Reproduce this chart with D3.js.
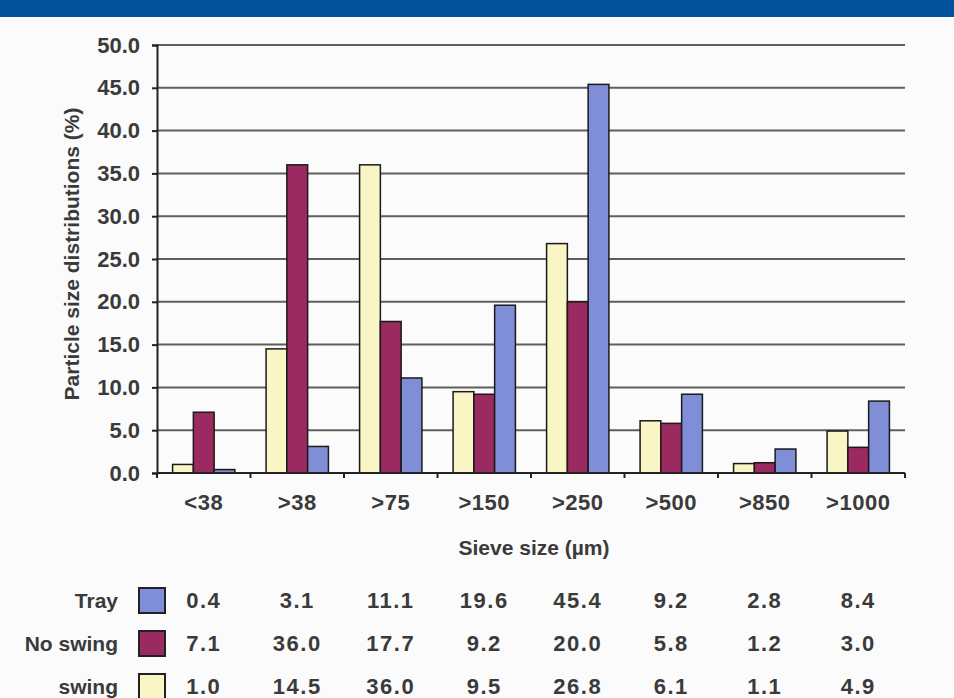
<!DOCTYPE html>
<html>
<head>
<meta charset="utf-8">
<script src="https://cdn.jsdelivr.net/npm/d3@7"></script>
<style>
  html, body { margin: 0; padding: 0; background: #fbfbfb; }
  svg { display: block; }
  text { font-family: "Liberation Sans", Arial, sans-serif; font-weight: bold; fill: #3a3a3a; }
</style>
</head>
<body>
<svg id="chart" width="954" height="698"></svg>
<script>
// Sieve fractions (µm)
const categories = ["<38", ">38", ">75", ">150", ">250", ">500", ">850", ">1000"];
// Series, in drawing order within each group
const seriesNames = ["swing", "No swing", "Tray"];
const swing   = [1.0, 14.5, 36.0, 9.5, 26.8, 6.1, 1.1, 4.9];
const noSwing = [7.1, 36.0, 17.7, 9.2, 20.0, 5.8, 1.2, 3.0];
const tray    = [0.4, 3.1, 11.1, 19.6, 45.4, 9.2, 2.8, 8.4];
const yTicks  = [0, 5, 10, 15, 20, 25, 30, 35, 40, 45, 50];
// Data-table rows, top to bottom
const tableRows = ["Tray", "No swing", "swing"];

const seriesValues = { "swing": swing, "No swing": noSwing, "Tray": tray };
const colors = { "swing": "#faf5c4", "No swing": "#9b2a60", "Tray": "#7f8ed6" };

const svg = d3.select("#chart");

// header band
svg.append("rect").attr("x", 0).attr("y", 0).attr("width", 954).attr("height", 17)
  .attr("fill", "#03529c");

const plot = { left: 157, right: 905, top: 45, bottom: 473 };

const x = d3.scaleBand().domain(categories).range([plot.left, plot.right]);
const xs = d3.scaleBand().domain(seriesNames).range([0, x.bandwidth()])
  .paddingInner(0).paddingOuter(0.75);
const y = d3.scaleLinear().domain([0, 50]).range([plot.bottom, plot.top]);

// horizontal gridlines
svg.append("g").selectAll("line").data(yTicks.filter(d => d > 0)).join("line")
  .attr("x1", plot.left).attr("x2", plot.right)
  .attr("y1", d => y(d)).attr("y2", d => y(d))
  .attr("stroke", "#5f5f5f").attr("stroke-width", 2);

// y axis
const yAxis = svg.append("g").attr("transform", `translate(${plot.left},0)`)
  .call(d3.axisLeft(y).tickValues(yTicks).tickFormat(d3.format(".1f")).tickSize(5).tickPadding(12));
yAxis.select(".domain").attr("stroke", "#222").attr("stroke-width", 2);
yAxis.selectAll(".tick line").attr("stroke", "#222").attr("stroke-width", 2);
yAxis.selectAll(".tick text").attr("font-size", 22).attr("fill", "#3a3a3a")
  .attr("font-family", "Liberation Sans, Arial, sans-serif").attr("font-weight", "bold");

// bars
const groups = svg.append("g").selectAll("g").data(categories).join("g")
  .attr("transform", d => `translate(${x(d)},0)`);
groups.selectAll("rect")
  .data((c, i) => seriesNames.map(s => ({ s, v: seriesValues[s][i] })))
  .join("rect")
  .attr("x", d => xs(d.s))
  .attr("width", xs.bandwidth())
  .attr("y", d => y(d.v))
  .attr("height", d => y(0) - y(d.v))
  .attr("fill", d => colors[d.s])
  .attr("stroke", "#1a1a1a").attr("stroke-width", 1.5);

// x axis with ticks between categories
const xAxisG = svg.append("g").attr("transform", `translate(0,${plot.bottom})`);
xAxisG.append("line").attr("x1", plot.left).attr("x2", plot.right)
  .attr("stroke", "#222").attr("stroke-width", 2);
xAxisG.selectAll("line.tk").data(categories.concat(["end"])).join("line").attr("class", "tk")
  .attr("x1", (d, i) => plot.left + i * x.step()).attr("x2", (d, i) => plot.left + i * x.step())
  .attr("y1", 0).attr("y2", 5).attr("stroke", "#222").attr("stroke-width", 2);
xAxisG.selectAll("text").data(categories).join("text")
  .attr("x", d => x(d) + x.bandwidth() / 2).attr("y", 37)
  .attr("text-anchor", "middle").attr("font-size", 22).attr("letter-spacing", 0.5).text(d => d);

// axis titles
svg.append("text").attr("x", 534).attr("y", 555).attr("text-anchor", "middle")
  .attr("font-size", 21).text("Sieve size (µm)");
svg.append("text").attr("transform", "translate(79,254) rotate(-90)")
  .attr("text-anchor", "middle").attr("font-size", 21).text("Particle size distributions (%)");

// data table with legend keys
const rowY = d3.scalePoint().domain(tableRows).range([600, 686]);
const table = svg.append("g").selectAll("g").data(tableRows).join("g")
  .attr("transform", d => `translate(0,${rowY(d)})`);
table.append("text").attr("x", 118).attr("y", 8).attr("text-anchor", "end")
  .attr("font-size", 21).text(d => d);
table.append("rect").attr("x", 139).attr("y", -12).attr("width", 26).attr("height", 25)
  .attr("fill", d => colors[d]).attr("stroke", "#222").attr("stroke-width", 2);
table.selectAll("text.val")
  .data(r => seriesValues[r].map((v, i) => ({ v, c: categories[i] })))
  .join("text").attr("class", "val")
  .attr("x", d => x(d.c) + x.bandwidth() / 2).attr("y", 8)
  .attr("text-anchor", "middle").attr("font-size", 22).attr("letter-spacing", 1.5)
  .text(d => d3.format(".1f")(d.v));
</script>
</body>
</html>
